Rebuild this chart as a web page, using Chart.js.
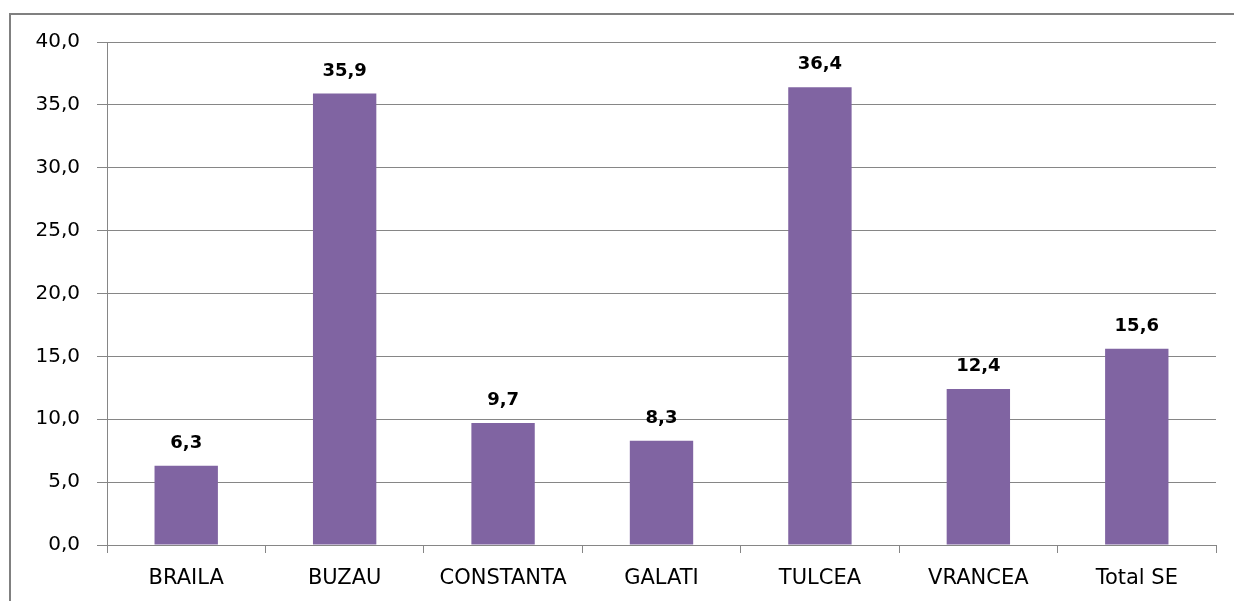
<!DOCTYPE html>
<html>
<head>
<meta charset="utf-8">
<script src="https://cdn.jsdelivr.net/npm/chart.js@4/dist/chart.umd.min.js"></script>
<style>
  html, body { margin: 0; padding: 0; background: #ffffff; }
  #wrap { position: relative; width: 1234px; height: 601px; }
</style>
</head>
<body>
<div id="wrap"><canvas id="c" width="1234" height="601"></canvas></div>
<script>
const categories = ["BRAILA", "BUZAU", "CONSTANTA", "GALATI", "TULCEA", "VRANCEA", "Total SE"];
const values = [6.3, 35.9, 9.7, 8.3, 36.4, 12.4, 15.6];
const yMin = 0;
const yMax = 40;
const yStep = 5;

const gridGray = "#868686";
const fmt = v => Number(v).toFixed(1).replace(".", ",");

const framePlugin = {
  id: "frame",
  beforeDraw(chart) {
    const ctx = chart.ctx;
    ctx.save();
    ctx.fillStyle = "#ffffff";
    ctx.fillRect(0, 0, chart.width, chart.height);
    ctx.strokeStyle = "#808080";
    ctx.lineWidth = 2;
    ctx.beginPath();
    ctx.moveTo(10, chart.height);
    ctx.lineTo(10, 14);
    ctx.lineTo(chart.width, 14);
    ctx.stroke();
    ctx.restore();
  }
};

const valueLabels = {
  id: "valueLabels",
  afterDatasetsDraw(chart) {
    const ctx = chart.ctx;
    const meta = chart.getDatasetMeta(0);
    ctx.save();
    ctx.font = "bold 18px 'DejaVu Sans'";
    ctx.fillStyle = "#000000";
    ctx.textAlign = "center";
    ctx.textBaseline = "alphabetic";
    meta.data.forEach((bar, i) => {
      ctx.fillText(fmt(chart.data.datasets[0].data[i]), bar.x, bar.y - 18);
    });
    ctx.restore();
  }
};

new Chart(document.getElementById("c"), {
  type: "bar",
  data: {
    labels: categories,
    datasets: [{
      data: values,
      backgroundColor: "#8064A2",
      borderWidth: 0,
      categoryPercentage: 1.0,
      barPercentage: 0.4
    }]
  },
  options: {
    responsive: false,
    animation: false,
    devicePixelRatio: 1,
    layout: { padding: { left: 10, top: 42, right: 18, bottom: 0 } },
    plugins: { legend: { display: false }, tooltip: { enabled: false }, title: { display: false } },
    scales: {
      x: {
        grid: {
          offset: true,
          drawOnChartArea: false,
          drawTicks: true,
          tickLength: 8,
          color: gridGray,
          lineWidth: 1
        },
        border: { display: true, color: gridGray, width: 1 },
        ticks: {
          color: "#000000",
          font: { family: "'DejaVu Sans'", size: 21 },
          padding: 13,
          maxRotation: 0,
          autoSkip: false
        },
        afterFit(scale) { scale.height = 56; }
      },
      y: {
        min: yMin,
        max: yMax,
        grid: {
          color: gridGray,
          lineWidth: 1,
          drawTicks: true,
          tickLength: 10
        },
        border: { display: true, color: gridGray, width: 1 },
        ticks: {
          stepSize: yStep,
          color: "#000000",
          font: { family: "'DejaVu Sans'", size: 20 },
          padding: 17,
          callback: v => fmt(v)
        },
        afterFit(scale) { scale.width = 97; }
      }
    }
  },
  plugins: [framePlugin, valueLabels]
});
</script>
</body>
</html>
